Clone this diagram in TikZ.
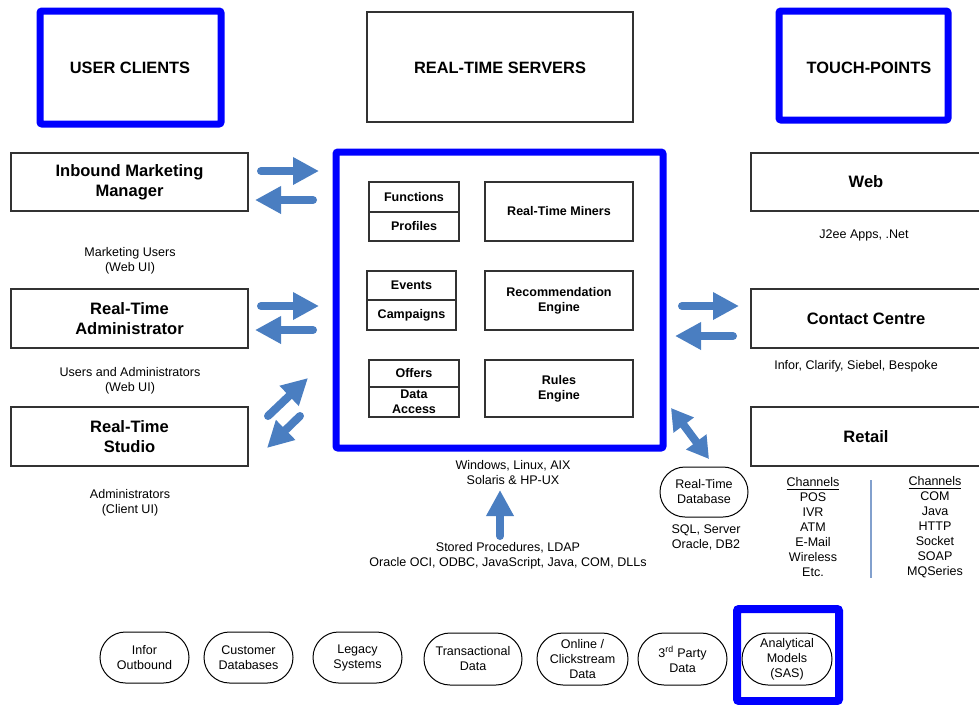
\documentclass[tikz,border=0pt]{standalone}
\usepackage{fontspec}
\setmainfont{Liberation Sans}
\usetikzlibrary{arrows.meta,shapes.misc}
\definecolor{frameblue}{RGB}{0,0,255}
\definecolor{arrowblue}{RGB}{74,126,193}
\definecolor{boxgray}{RGB}{50,50,50}
\definecolor{sepblue}{RGB}{130,160,205}
\begin{document}
\begin{tikzpicture}[x=0.75pt,y=-0.75pt,
  sz/.style 2 args={minimum width=#1*0.75pt, minimum height=#2*0.75pt, inner sep=0pt},
  thinbox/.style={draw=boxgray, line width=0.8pt, rectangle, align=center},
  bluebox/.style={draw=frameblue, line width=5.25pt, rounded corners=1.5pt},
  stad/.style={draw=black, line width=0.75pt, rounded rectangle, align=center, font=\fontsize{9.4}{11.25}\selectfont},
  head/.style={font=\fontsize{12.3}{14}\selectfont\bfseries, align=center},
  big/.style={font=\fontsize{12.4}{15}\selectfont\bfseries, align=center},
  inner/.style={font=\fontsize{9.4}{11.25}\selectfont\bfseries, align=center},
  small/.style={font=\fontsize{9.4}{11.25}\selectfont, align=center, inner sep=0pt},
  blk/.style={draw=arrowblue, line width=6pt, line cap=round, -{Triangle[width=19.5pt,length=19.5pt]}},
  blkd/.style={draw=arrowblue, line width=6pt, {Triangle[width=18pt,length=16pt]}-{Triangle[width=18pt,length=16pt]}}
]
\useasboundingbox (0,0) rectangle (979,704);

% top headers
\draw[bluebox] (40,11) rectangle (221,124);
\node[head] (uc) at (130,68) {USER CLIENTS};
\node[thinbox, sz={266}{110}] (rts) at (500,67) {};
\node[head] (rtsl) at (500,68) {REAL-TIME SERVERS};
\draw[bluebox] (779,11) rectangle (948,120);
\node[head] (tp) at (869,68) {TOUCH-POINTS};

% left column
\node[thinbox, big, sz={237}{58}] (imm) at (129.5,182) {Inbound Marketing\\Manager};
\node[small] (mu) at (130,260.5) {Marketing Users\\(Web UI)};
\node[thinbox, big, sz={237}{59}] (rta) at (129.5,318.5) {Real-Time\\Administrator};
\node[small] (ua) at (130,381) {Users and Administrators\\(Web UI)};
\node[thinbox, big, sz={237}{59}] (rtst) at (129.5,436.5) {Real-Time\\Studio};
\node[small] (adm) at (130,503) {Administrators\\(Client UI)};

% central server
\draw[bluebox] (336,152) rectangle (663,448);
\node[thinbox, inner, sz={90}{30}] (fun) at (414,197) {Functions};
\node[thinbox, inner, sz={90}{29}] (pro) at (414,226.5) {Profiles};
\node[thinbox, inner, sz={89}{29}] (evt) at (411.5,285.5) {Events};
\node[thinbox, inner, sz={89}{30}] (cam) at (411.5,315) {Campaigns};
\node[thinbox, inner, sz={90}{27}] (off) at (414,373.5) {Offers};
\node[thinbox, inner, sz={90}{30}] (dat) at (414,402) {Data\\Access};
\node[thinbox, inner, sz={148}{59}] (min) at (559,211.5) {Real-Time Miners};
\node[thinbox, inner, sz={148}{59}] (rec) at (559,300.5) {Recommendation\\Engine};
\node[thinbox, inner, sz={148}{57}] (rul) at (559,388.5) {Rules\\Engine};

\node[small] (os) at (513,472.5) {Windows, Linux, AIX\\Solaris \& HP-UX};
\node[small] (sp) at (508,555.5) {Stored Procedures, LDAP\\Oracle OCI, ODBC, JavaScript, Java, COM, DLLs};

% database
\node[stad, sz={88}{50}] (db) at (704,492) {Real-Time\\Database};
\node[small] (dbl) at (706,537.5) {SQL, Server\\Oracle, DB2};

% right column
\node[thinbox, big, sz={230}{58}] (web) at (866,182) {Web};
\node[small] (webl) at (864,235) {J2ee Apps, .Net};
\node[thinbox, big, sz={230}{59}] (cc) at (866,318.5) {Contact Centre};
\node[small] (ccl) at (856,366) {Infor, Clarify, Siebel, Bespoke};
\node[thinbox, big, sz={230}{59}] (ret) at (866,436.5) {Retail};
\node[small] (ch1) at (813,527.5) {\underline{Channels}\\POS\\IVR\\ATM\\E-Mail\\Wireless\\Etc.};
\node[small] (ch2) at (935,527.5) {\underline{Channels}\\COM\\Java\\HTTP\\Socket\\SOAP\\MQSeries};
\coordinate (sepa) at (871,480);
\coordinate (sepb) at (871,578);
\draw[sepblue, line width=0.9pt] (sepa) -- (sepb);

% bottom sources
\node[stad, sz={89}{51}] (s1) at (144.5,657.5) {Infor\\Outbound};
\node[stad, sz={89}{51}] (s2) at (248.5,657.5) {Customer\\Databases};
\node[stad, sz={89}{51}] (s3) at (357.5,657.5) {Legacy\\Systems};
\node[stad, sz={98}{52}] (s4) at (473,659) {Transactional\\Data};
\node[stad, sz={91}{52}] (s5) at (582.5,659) {Online /\\Clickstream\\Data};
\node[stad, sz={89}{52}] (s6) at (682.5,659) {3\textsuperscript{rd} Party\\Data};
\node[stad, sz={90}{52}] (s7) at (787,659) {Analytical\\Models\\(SAS)};
\draw[draw=frameblue, line width=6pt, rounded corners=1.5pt] (737,609) rectangle (839,701);

% arrows
\coordinate (a1s) at (261,171); \coordinate (a1e) at (319,171);
\coordinate (a2s) at (313,200); \coordinate (a2e) at (255,200);
\coordinate (a3s) at (261,306); \coordinate (a3e) at (319,306);
\coordinate (a4s) at (313,330); \coordinate (a4e) at (255,330);
\coordinate (a5s) at (268,416); \coordinate (a5e) at (308,378);
\coordinate (a6s) at (300,416); \coordinate (a6e) at (267,448);
\coordinate (a7s) at (682,306); \coordinate (a7e) at (739,306);
\coordinate (a8s) at (733,336); \coordinate (a8e) at (675,336);
\coordinate (a9s) at (671,408); \coordinate (a9e) at (709,459);
\coordinate (a10s) at (500,536); \coordinate (a10e) at (500,490);
\draw[blk] (a1s) -- (a1e);
\draw[blk] (a2s) -- (a2e);
\draw[blk] (a3s) -- (a3e);
\draw[blk] (a4s) -- (a4e);
\draw[blk] (a5s) -- (a5e);
\draw[blk] (a6s) -- (a6e);
\draw[blk] (a7s) -- (a7e);
\draw[blk] (a8s) -- (a8e);
\draw[blkd] (a9s) -- (a9e);
\draw[blk] (a10s) -- (a10e);
\end{tikzpicture}
\end{document}
